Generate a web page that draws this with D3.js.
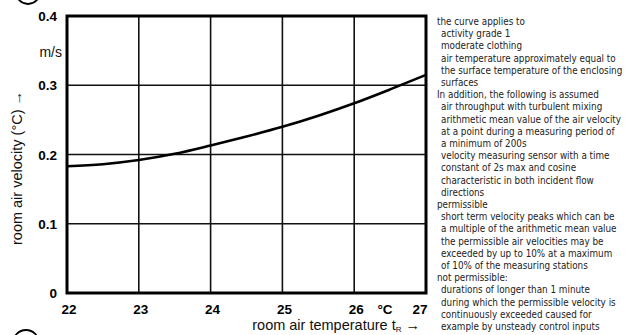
<!DOCTYPE html>
<html><head><meta charset="utf-8">
<script src="https://cdn.jsdelivr.net/npm/d3@7/dist/d3.min.js"></script>
<style>body{margin:0;background:#fff}svg{display:block}</style>
</head><body>
<script>
const temps = [22, 22.5, 23, 23.5, 24, 24.5, 25, 25.5, 26, 26.5, 27];
const velocities = [0.183, 0.186, 0.192, 0.201, 0.213, 0.226, 0.240, 0.256, 0.274, 0.294, 0.315];
const xTicks = [22, 23, 24, 25, 26, 27];
const yTicks = [0, 0.1, 0.2, 0.3, 0.4];
const notes = [
  [0, "the curve applies to"],
  [1, "activity grade 1"],
  [1, "moderate clothing"],
  [1, "air temperature approximately equal to"],
  [1, "the surface temperature of the enclosing"],
  [1, "surfaces"],
  [0, "In addition, the following is assumed"],
  [1, "air throughput with turbulent mixing"],
  [1, "arithmetic mean value of the air velocity"],
  [1, "at a point  during a measuring period of"],
  [1, "a minimum of 200s"],
  [1, "velocity measuring sensor with a time"],
  [1, "constant of 2s max  and cosine"],
  [1, "characteristic in both incident flow"],
  [1, "directions"],
  [0, "permissible"],
  [1, "short term velocity peaks  which can be"],
  [1, "a multiple of the arithmetic mean value"],
  [1, "the permissible air velocities may be"],
  [1, "exceeded by up to 10% at a maximum"],
  [1, "of 10% of the measuring stations"],
  [0, "not permissible:"],
  [1, "durations of longer than 1 minute"],
  [1, "during which the permissible velocity is"],
  [1, "continuously exceeded  caused for"],
  [1, "example by unsteady control inputs"]
];

const W = 638, H = 335;
const svg = d3.select("body").append("svg").attr("width", W).attr("height", H);
const x = d3.scaleLinear().domain([22, 27]).range([67, 426]);
const y = d3.scaleLinear().domain([0, 0.4]).range([293, 16]);

// gridlines
svg.append("g").selectAll("line.v").data(xTicks.slice(1, -1)).join("line")
  .attr("x1", d => x(d)).attr("x2", d => x(d)).attr("y1", y(0.4)).attr("y2", y(0))
  .attr("stroke", "#111").attr("stroke-width", 1.6);
svg.append("g").selectAll("line.h").data(yTicks.slice(1, -1)).join("line")
  .attr("x1", x(22)).attr("x2", x(27)).attr("y1", d => y(d)).attr("y2", d => y(d))
  .attr("stroke", "#111").attr("stroke-width", 1.6);

// frame
svg.append("rect").attr("x", x(22)).attr("y", y(0.4))
  .attr("width", x(27) - x(22)).attr("height", y(0) - y(0.4))
  .attr("fill", "none").attr("stroke", "#000").attr("stroke-width", 3);

// curve
svg.append("path").datum(temps.map((t, i) => [t, velocities[i]]))
  .attr("d", d3.line().x(d => x(d[0])).y(d => y(d[1])).curve(d3.curveMonotoneX))
  .attr("fill", "none").attr("stroke", "#000").attr("stroke-width", 2.6);

const f = "Liberation Sans, Arial, sans-serif";
// y tick labels
svg.append("g").selectAll("text").data(yTicks).join("text")
  .attr("x", 57).attr("y", d => y(d) + 5).attr("text-anchor", "end")
  .attr("font-family", f).attr("font-weight", "bold").attr("font-size", 13.5)
  .text(d => d === 0 ? "0" : d3.format(".1f")(d));
svg.append("text").attr("x", 62).attr("y", 57).attr("text-anchor", "end")
  .attr("font-family", f).attr("font-size", 14).attr("fill", "#111").text("m/s");

// x tick labels
svg.append("g").selectAll("text").data(xTicks).join("text")
  .attr("x", d => x(d) + (d === 27 ? -6 : 2)).attr("y", 314).attr("text-anchor", "middle")
  .attr("font-family", f).attr("font-weight", "bold").attr("font-size", 13.5)
  .text(d => d);
svg.append("text").attr("x", 385).attr("y", 314).attr("text-anchor", "middle")
  .attr("font-family", f).attr("font-weight", "bold").attr("font-size", 13.5).text("°C");

// axis titles
const xt = svg.append("text").attr("x", 420).attr("y", 330).attr("text-anchor", "end")
  .attr("font-family", f).attr("font-size", 14.5).attr("fill", "#111");
xt.append("tspan").text("room air temperature t");
xt.append("tspan").attr("font-size", 8).attr("dy", 2).text("R");
xt.append("tspan").attr("dy", -2).text(" \u2192");

svg.append("text").attr("transform", "translate(22,168) rotate(-90)")
  .attr("text-anchor", "middle").attr("font-family", f).attr("font-size", 14.5).attr("fill", "#111")
  .text("room air velocity (°C) \u2192");

// partial circled labels
svg.append("circle").attr("cx", 28).attr("cy", -8).attr("r", 12)
  .attr("fill", "none").attr("stroke", "#000").attr("stroke-width", 1.8);
svg.append("circle").attr("cx", 26).attr("cy", 343).attr("r", 13)
  .attr("fill", "none").attr("stroke", "#000").attr("stroke-width", 1.8);

// notes
svg.append("g").selectAll("text").data(notes).join("text")
  .attr("x", d => d[0] ? 441 : 437).attr("y", (d, i) => 25 + i * 12.2)
  .attr("font-family", "Liberation Sans Narrow, DejaVu Sans Condensed, Liberation Sans, sans-serif")
  .attr("font-size", 9.8).attr("fill", "#222")
  .text(d => d[1]);
</script>
</body></html>
